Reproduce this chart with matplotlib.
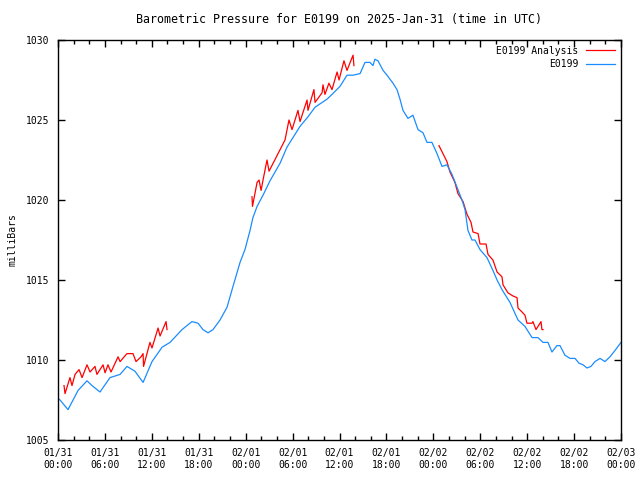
import numpy as np
import matplotlib
matplotlib.use("Agg")
import matplotlib.pyplot as plt
from matplotlib.ticker import MultipleLocator

# hours since 2025-01-31 00:00 UTC, pressure in mb
obs_hours = [0.0, 0.26, 1.28, 2.57, 3.71, 4.35, 5.37, 6.65, 7.94, 8.82, 9.84, 10.88, 12.02,
             13.31, 14.33, 15.86, 17.13, 17.91, 18.54, 19.19, 19.82, 20.72, 21.62, 22.38,
             23.28, 23.91, 24.56, 24.93, 25.46, 26.22, 27.11, 28.40, 29.28, 30.05, 30.95,
             31.97, 32.87, 34.40, 35.04, 36.06, 36.96, 37.73, 38.63, 39.26, 39.90, 40.28,
             40.53, 40.92, 41.57, 42.08, 42.84, 43.35, 43.74, 44.12, 44.76, 45.39, 46.04,
             46.68, 47.19, 47.82, 48.47, 49.11, 49.74, 50.39, 51.03, 51.66, 52.05, 52.43,
             52.94, 53.33, 53.97, 54.86, 55.62, 56.15, 56.78, 57.80, 58.83, 59.72, 60.62,
             61.38, 62.03, 62.66, 63.17, 63.81, 64.20, 64.83, 65.48, 66.12, 66.63, 67.14,
             67.65, 68.16, 68.67, 69.32, 69.95, 70.59, 71.24, 72.0]
obs_mb = [1007.6, 1007.5, 1006.9, 1008.1, 1008.7, 1008.4, 1008.0, 1008.9, 1009.1, 1009.6,
          1009.3, 1008.6, 1009.9, 1010.8, 1011.1, 1011.9, 1012.4, 1012.3, 1011.9, 1011.7,
          1011.9, 1012.5, 1013.3, 1014.6, 1016.1, 1016.9, 1018.1, 1018.9, 1019.6, 1020.3,
          1021.2, 1022.3, 1023.3, 1023.9, 1024.6, 1025.2, 1025.8, 1026.3, 1026.6, 1027.1,
          1027.8, 1027.8, 1027.9, 1028.6, 1028.6, 1028.4, 1028.8, 1028.7, 1028.1, 1027.8,
          1027.3, 1026.9, 1026.3, 1025.6, 1025.1, 1025.3, 1024.4, 1024.2, 1023.6, 1023.6,
          1022.9, 1022.1, 1022.2, 1021.6, 1020.8, 1020.0, 1019.4, 1018.1, 1017.5, 1017.5,
          1016.9, 1016.4, 1015.6, 1015.0, 1014.4, 1013.6, 1012.5, 1012.1, 1011.4, 1011.4,
          1011.1, 1011.1, 1010.5, 1010.9, 1010.9, 1010.3, 1010.1, 1010.1, 1009.8, 1009.7,
          1009.5, 1009.6, 1009.9, 1010.1, 1009.9, 1010.2, 1010.6, 1011.1]

# analysis runs (three separate pieces)
ana1_hours = [0.77, 0.90, 1.53, 1.79, 2.18, 2.69, 3.08, 3.71, 4.10, 4.73, 4.98, 5.76, 6.02,
              6.39, 6.78, 7.68, 7.94, 8.82, 9.59, 9.98, 10.62, 10.88, 10.94, 11.76, 12.02,
              12.80, 13.05, 13.82, 13.94]
ana1_mb = [1008.4, 1007.9, 1008.9, 1008.4, 1009.1, 1009.4, 1008.9, 1009.7, 1009.25, 1009.6,
           1009.1, 1009.7, 1009.2, 1009.7, 1009.25, 1010.2, 1009.9, 1010.4, 1010.4, 1009.9,
           1010.2, 1010.4, 1009.6, 1011.1, 1010.75, 1012.0, 1011.5, 1012.4, 1011.9]
ana2_hours = [24.81, 24.87, 25.46, 25.71, 25.97, 26.22, 26.73, 26.99, 29.03, 29.54, 29.93,
              30.69, 30.95, 31.85, 31.97, 32.73, 32.87, 33.77, 33.89, 34.14, 34.65, 35.04,
              35.69, 35.94, 36.57, 36.96, 37.73, 37.85]
ana2_mb = [1020.2, 1019.6, 1021.1, 1021.25, 1020.6, 1021.25, 1022.5, 1021.8, 1023.75, 1025.0,
           1024.4, 1025.6, 1024.9, 1026.25, 1025.6, 1026.9, 1026.1, 1026.7, 1027.2, 1026.6,
           1027.3, 1026.9, 1028.0, 1027.5, 1028.7, 1028.1, 1029.05, 1028.4]
ana3_hours = [48.72, 49.74, 50.13, 50.76, 51.15, 51.80, 52.31, 52.82, 53.07, 53.72, 53.97,
              54.74, 54.99, 55.62, 56.15, 56.78, 56.91, 57.54, 58.19, 58.70, 58.83, 59.34,
              59.72, 59.97, 60.62, 60.74, 61.13, 61.77, 61.89, 62.03]
ana3_mb = [1023.4, 1022.4, 1021.75, 1021.1, 1020.4, 1019.9, 1019.1, 1018.6, 1018.0, 1017.9,
           1017.25, 1017.25, 1016.6, 1016.25, 1015.5, 1015.2, 1014.7, 1014.2, 1014.0, 1013.9,
           1013.25, 1013.0, 1012.8, 1012.3, 1012.3, 1012.4, 1011.9, 1012.4, 1011.9, 1011.9]

tick_labels = ["01/31\n00:00", "01/31\n06:00", "01/31\n12:00", "01/31\n18:00",
               "02/01\n00:00", "02/01\n06:00", "02/01\n12:00", "02/01\n18:00",
               "02/02\n00:00", "02/02\n06:00", "02/02\n12:00", "02/02\n18:00",
               "02/03\n00:00"]

plt.rcParams['font.family'] = 'DejaVu Sans Mono'
plt.rcParams['font.size'] = 7

red = '#ff0000'
blue = '#1a8cff'

fig = plt.figure(figsize=(6.4, 4.8), dpi=100)
ax = fig.add_axes([58 / 640, 40 / 480, 563 / 640, 400 / 480])

ax.plot(ana1_hours, ana1_mb, color=red, lw=0.9, label='E0199 Analysis')
ax.plot(ana2_hours, ana2_mb, color=red, lw=0.9)
ax.plot(ana3_hours, ana3_mb, color=red, lw=0.9)
ax.plot(obs_hours, obs_mb, color=blue, lw=0.9, label='E0199')

ax.set_xlim(0, 72)
ax.set_ylim(1005, 1030)
ax.set_xticks(np.arange(0, 73, 6))
ax.set_xticklabels(tick_labels)
ax.xaxis.set_minor_locator(MultipleLocator(2))
ax.set_yticks(np.arange(1005, 1031, 5))

ax.tick_params(which='both', direction='in', top=True, right=True, width=1, pad=6)
ax.tick_params(which='major', length=5)
ax.tick_params(which='minor', length=3)
for s in ax.spines.values():
    s.set_linewidth(1)

ax.set_ylabel('milliBars', labelpad=6)
ax.set_title('Barometric Pressure for E0199 on 2025-Jan-31 (time in UTC)', pad=12)

ax.legend(loc='upper right', frameon=False, markerfirst=False, handlelength=3,
          borderaxespad=0.2, labelspacing=0.35, handletextpad=0.8)

fig.savefig('out.png', dpi=100)
